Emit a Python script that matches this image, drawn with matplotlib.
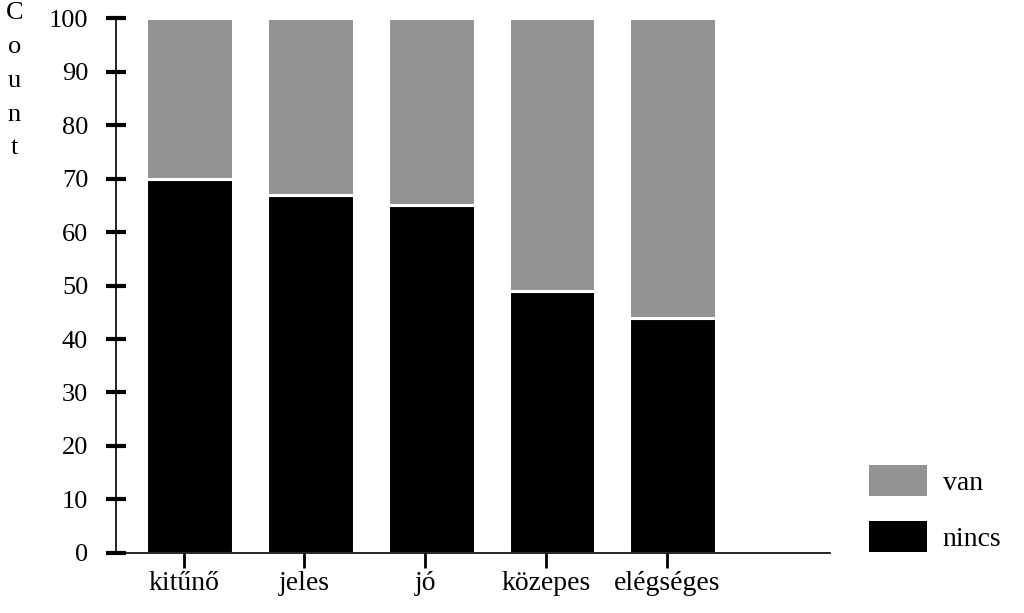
import matplotlib
matplotlib.use("Agg")
import matplotlib.pyplot as plt
from matplotlib.patches import Patch

# adatok
kategoriak = ['kitűnő', 'jeles', 'jó', 'közepes', 'elégséges']
nincs = [70, 67, 65, 49, 44]
van = [30, 33, 35, 51, 56]
y_ticks = [0, 10, 20, 30, 40, 50, 60, 70, 80, 90, 100]

plt.rcParams['font.family'] = ['Liberation Serif', 'DejaVu Serif']

fig = plt.figure(figsize=(10.24, 6.13), dpi=100)
ax = fig.add_axes([0.1133, 0.0979, 0.697, 0.8727])

x = list(range(len(kategoriak)))
# az oszlopok kicsit jobbra vannak a jelölésekhez képest
xo = [i + 0.05 for i in x]
ax.bar(xo, nincs, width=0.72, color='black', edgecolor='white', linewidth=2.2)
ax.bar(xo, van, bottom=nincs, width=0.72, color='#939393', edgecolor='white',
       linewidth=2.2, clip_on=False)

ax.set_xlim(-0.56, 5.35)
ax.set_ylim(0, 100)
ax.set_yticks(y_ticks)
ax.set_xticks(x)
ax.set_xticklabels(kategoriak)

for s in ['top', 'right']:
    ax.spines[s].set_visible(False)
ax.spines['left'].set_linewidth(1.2)
ax.spines['bottom'].set_linewidth(1.2)

ax.tick_params(axis='y', direction='inout', length=14, width=3, labelsize=19, pad=13)
ax.tick_params(axis='x', direction='out', length=11, width=2, labelsize=20, pad=2)

# függőleges "Count" felirat
fig.text(0.014, 0.997, 'C\no\nu\nn\nt', fontsize=19, ha='center', va='top',
         linespacing=1.7)

# jelmagyarázat
kezelok = [Patch(facecolor='#939393', edgecolor='none'),
           Patch(facecolor='black', edgecolor='none')]
fig.legend(kezelok, ['van', 'nincs'], loc='upper left',
           bbox_to_anchor=(0.835, 0.264), frameon=False, fontsize=20,
           handlelength=2.1, handleheight=1.35, labelspacing=0.9,
           handletextpad=0.55, borderpad=0)

fig.savefig('out.png', dpi=100, facecolor='white')
